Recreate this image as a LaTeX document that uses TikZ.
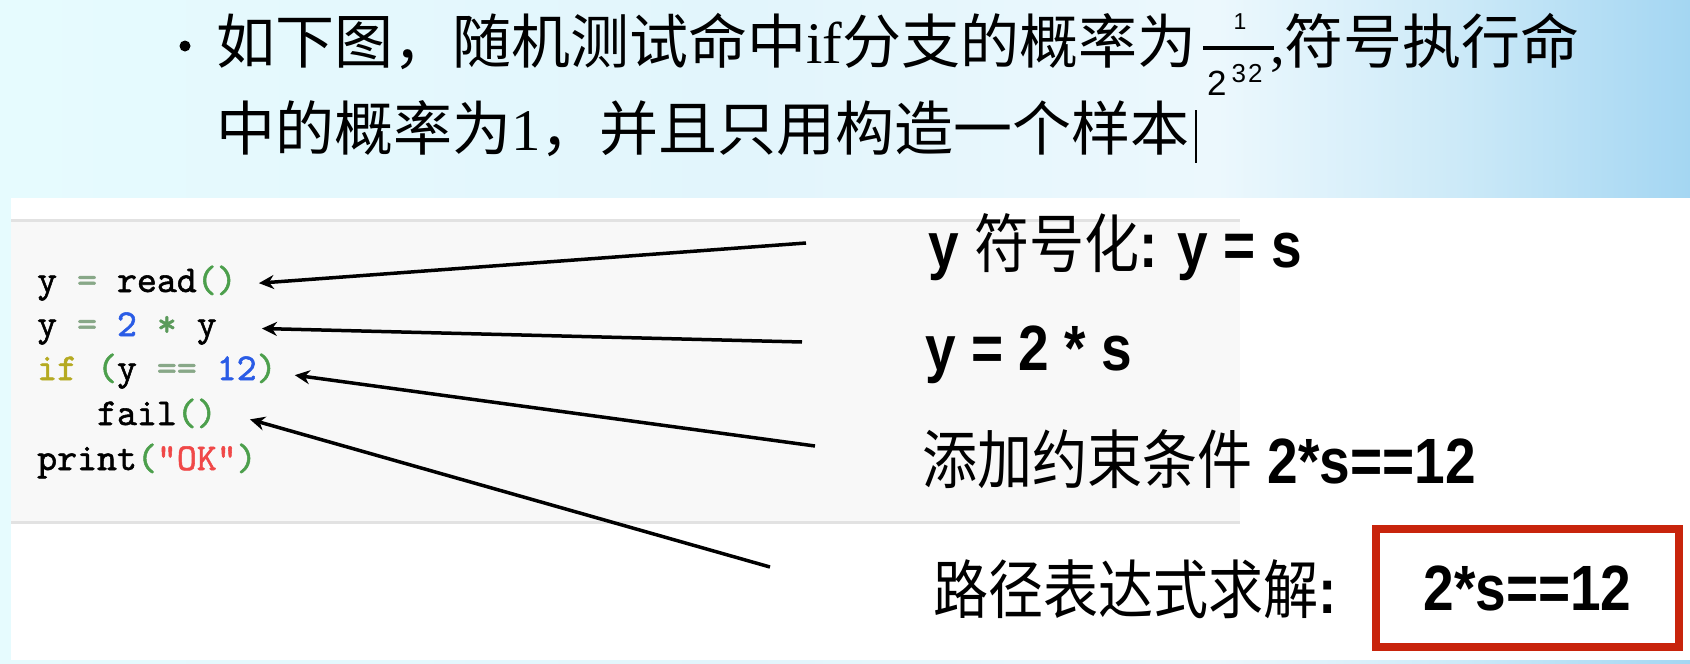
\documentclass[tikz,border=0pt]{standalone}
\usepackage{fontspec}
\setmainfont{Liberation Serif}
\newfontfamily\cjk{Noto Sans CJK SC}
\newfontfamily\cjkn[FakeStretch=0.86]{Noto Sans CJK SC}
\newfontfamily\lab[FakeStretch=0.86]{Liberation Sans}
\newfontfamily\fracfont{Liberation Sans}
\newfontfamily\codefont{lmmono10-regular.otf}[FakeBold=1.4]
\usetikzlibrary{arrows.meta, positioning, calc}

\definecolor{bgA}{HTML}{E6FBFE}
\definecolor{bgB}{HTML}{E2F5FC}
\definecolor{bgC}{HTML}{ECF8FD}
\definecolor{bgD}{HTML}{CDEAF8}
\definecolor{bgE}{HTML}{A4D6F2}
\definecolor{codebg}{HTML}{F8F8F8}
\definecolor{codeedge}{HTML}{E2E2E2}
\definecolor{opgray}{HTML}{88A888}
\definecolor{stargreen}{HTML}{5A9A5A}
\definecolor{pargreen}{HTML}{4C9F4C}
\definecolor{numblue}{HTML}{2A5CE6}
\definecolor{kwolive}{HTML}{B5AA22}
\definecolor{strred}{HTML}{F04848}
\definecolor{boxred}{HTML}{C8240C}

\pgfdeclarehorizontalshading{slidebg}{100bp}{color(0bp)=(bgA); color(25bp)=(bgA);
  color(47bp)=(bgB); color(61bp)=(bgC); color(68bp)=(bgD); color(75bp)=(bgE); color(100bp)=(bgE)}

\tikzset{
  headline/.style={anchor=base west, inner sep=0pt, font=\fontsize{59}{70}\selectfont},
  codetext/.style={anchor=base west, inner sep=0pt, font=\codefont\fontsize{38}{44}\selectfont},
  note/.style={anchor=base west, inner sep=0pt, font=\lab\bfseries\fontsize{64}{72}\selectfont},
  solbox/.style={draw=boxred, line width=8pt, fill=white, inner sep=0pt,
    minimum width=303pt, minimum height=118pt, font=\lab\bfseries\fontsize{64}{72}\selectfont},
  ptr/.style={-{Stealth[length=15pt,width=14pt]}, line width=3.5pt},
}

\begin{document}
\begin{tikzpicture}[x=1pt, y=-1pt]
    \useasboundingbox (0,0) rectangle (1690,664);

    % --- Slide background and panels ---
    \shade[shading=slidebg] (0,0) rectangle (1690,664);
    \fill[white] (11,198) rectangle (1690,660);
    \fill[codebg] (11,220) rectangle (1240,522);
    \draw[codeedge, line width=3pt] (11,220) -- (1240,220);
    \draw[codeedge, line width=3pt] (11,522) -- (1240,522);

    % --- Title ---
    \node[circle, fill=black, inner sep=0pt, minimum size=11pt] (bullet) at (185,46) {};
    \node[headline] (line1) at (216,63) {{\cjk 如下图，随机测试命中}if{\cjk 分支的概率为}};
    \node[anchor=base, inner sep=0pt, font=\fracfont\fontsize{23}{26}\selectfont] (num) at (1240,29) {1};
    \draw[line width=4.5pt] (1203,48) -- (1274,48);
    \node[anchor=base west, inner sep=0pt, font=\fracfont\fontsize{35}{40}\selectfont] (den) at (1207,95)
      {2\kern5pt\raisebox{13pt}{\fontsize{26}{30}\selectfont 3\kern2pt 2}};
    \node[headline] (line1b) at (1270,63) {,{\cjk 符号执行命}};
    \node[headline] (line2) at (216,150) {{\cjk 中的概率为}1{\cjk ，并且只用构造一个样本}};
    \draw[line width=1.2pt] (1196,110) -- (1196,163);

    % --- Code lines ---
    \node[codetext] (read) at (37,292) {y \textcolor{opgray}{=} read\textcolor{pargreen}{()}};
    \node[codetext] (double) at (37,336) {y \textcolor{opgray}{=} \textcolor{numblue}{2} \textcolor{stargreen}{*} y};
    \node[codetext] (branch) at (37,380) {\textcolor{kwolive}{if} \textcolor{pargreen}{(}y \textcolor{opgray}{==} \textcolor{numblue}{12}\textcolor{pargreen}{)}};
    \node[codetext] (failcall) at (37,425) {\ \ \ fail\textcolor{pargreen}{()}};
    \node[codetext] (printok) at (37,470) {print\textcolor{pargreen}{(}\textcolor{strred}{"OK"}\textcolor{pargreen}{)}};

    % --- Notes on the right ---
    \node[note] (symb) at (928,267) {y {\cjkn\mdseries 符号化}: y = s};
    \node[note] (assign) at (925,370) {y = 2 * s};
    \node[note] (constr) at (922,483) {{\cjkn\mdseries 添加约束条件} 2*s==12};
    \node[note] (solve) at (933,613) {{\cjkn\mdseries 路径表达式求解}:};
    \node[solbox] (answer) at (1527.5,588) {2*s==12};

    % --- Pointers ---
    \coordinate (t1) at (806,243);
    \coordinate (t2) at (802,342);
    \coordinate (t3) at (815,446);
    \coordinate (t4) at (770,567);
    \draw[ptr] (t1) -- ([xshift=22pt]read.east);
    \draw[ptr] (t2) -- ([xshift=45pt]double.east);
    \draw[ptr] (t3) -- ([xshift=18pt,yshift=-4pt]branch.east);
    \draw[ptr] (t4) -- ([xshift=33pt,yshift=-6pt]failcall.east);
  \end{tikzpicture}
\end{document}
